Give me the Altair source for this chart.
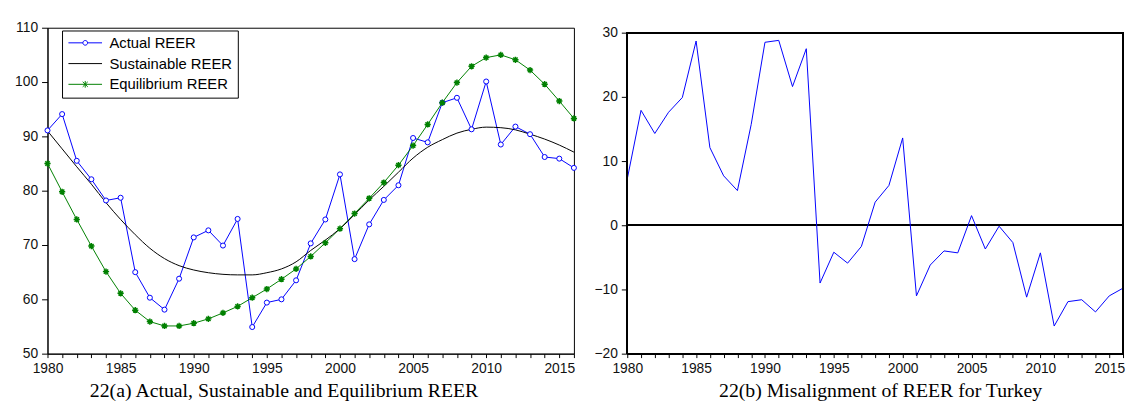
import altair as alt
import pandas as pd

years = list(range(1980, 2017))

actual_reer = [91.1, 94.1, 85.5, 82.1, 78.2, 78.7, 65.0, 60.3, 58.1, 63.8,
               71.4, 72.7, 69.9, 74.8, 54.9, 59.4, 60.0, 63.5, 70.3, 74.7,
               83.0, 67.4, 73.8, 78.3, 81.0, 89.7, 88.9, 96.2, 97.1, 91.3,
               100.1, 88.5, 91.8, 90.4, 86.2, 85.9, 84.2]

sustainable_reer = [91.0, 87.7, 84.4, 81.2, 77.8, 74.7, 71.9, 69.4, 67.5, 66.2,
                    65.4, 64.9, 64.6, 64.5, 64.5, 64.9, 65.6, 66.9, 69.0, 70.9,
                    73.0, 75.6, 78.3, 80.8, 83.4, 86.0, 88.0, 89.4, 90.6, 91.3,
                    91.7, 91.6, 91.2, 90.4, 89.5, 88.4, 87.1]

equilibrium_reer = [85.0, 79.8, 74.7, 69.8, 65.1, 61.1, 58.0, 55.9, 55.1, 55.1,
                    55.6, 56.4, 57.5, 58.7, 60.3, 61.9, 63.7, 65.6, 67.9, 70.4,
                    73.0, 75.8, 78.6, 81.5, 84.7, 88.3, 92.2, 96.2, 99.9, 102.9,
                    104.5, 105.0, 104.1, 102.2, 99.6, 96.5, 93.3]

misalignment = [7.2, 17.9, 14.3, 17.6, 19.9, 28.7, 12.1, 7.7, 5.4, 15.7,
                28.5, 28.8, 21.6, 27.5, -9.0, -4.2, -5.9, -3.3, 3.6, 6.2,
                13.6, -11.0, -6.2, -4.0, -4.3, 1.5, -3.7, -0.15, -2.7, -11.2,
                -4.3, -15.7, -11.9, -11.6, -13.5, -11.0, -9.8]

series_names = ["Actual REER", "Sustainable REER", "Equilibrium REER"]
series_colors = ["#0000ff", "#000000", "#008000"]
left_y_ticks = [50, 60, 70, 80, 90, 100, 110]
right_y_ticks = [-20, -10, 0, 10, 20, 30]
caption_a = "22(a) Actual, Sustainable and Equilibrium REER"
caption_b = "22(b) Misalignment of REER for Turkey"

df = pd.DataFrame({
    "year": years * 3,
    "series": [series_names[0]] * len(years) + [series_names[1]] * len(years) + [series_names[2]] * len(years),
    "value": actual_reer + sustainable_reer + equilibrium_reer,
})
mis_df = pd.DataFrame({"year": years, "value": misalignment})

STAR = "M-1,0L1,0M0,-1L0,1M-0.7,-0.7L0.7,0.7M-0.7,0.7L0.7,-0.7"
LEG_ACT = "M-1,0L-0.14,0M0.14,0L1,0M-0.14,0A0.14,0.14,0,1,1,0.14,0A0.14,0.14,0,1,1,-0.14,0Z"
LEG_EQ = "M-1,0L1,0M-0.15,-0.15L0.15,0.15M-0.15,0.15L0.15,-0.15M0,-0.2L0,0.2"
LEG_LINE = "M-1,0L1,0"
shape_signal = ("datum.value === 'Actual REER' ? '" + LEG_ACT + "' : (datum.value === 'Equilibrium REER' ? '"
                + LEG_EQ + "' : '" + LEG_LINE + "')")

label_expr = "datum.value % 5 == 0 ? datum.label : ''"
CAPTION_Y = 43.5


def x_axis(caption, tx):
    return alt.Axis(values=years, format="d", labelExpr=label_expr, tickSize=4,
                    labelPadding=4, labelFlush=False, labelOverlap=False,
                    title=caption, titleFont="Liberation Serif", titleFontSize=20,
                    titleFontWeight="normal", titleColor="black", titleBaseline="alphabetic",
                    titleY=CAPTION_Y, titleX=tx, titleAlign="center")


x_scale = alt.Scale(domain=[1980, 2016], nice=False, zero=False)

color_scale = alt.Scale(domain=series_names, range=series_colors)
legend = alt.Legend(
    title=None, orient="none", legendX=14.7, legendY=2.8, direction="vertical",
    strokeColor="black", fillColor="white", padding=5,
    labelFont="Liberation Sans", labelFontSize=15, labelColor="black",
    symbolSize=1156, symbolStrokeWidth=1, clipHeight=15, rowPadding=5, labelOffset=7,
    symbolOffset=1, symbolType=alt.ExprRef(expr=shape_signal), symbolFillColor="white",
)

# ---- left panel ----
base = alt.Chart(df)
x_left = alt.X("year:Q", scale=x_scale, axis=x_axis(caption_a, 239))
y_left = alt.Y("value:Q", scale=alt.Scale(domain=[50, 110], nice=False, zero=False),
               axis=alt.Axis(values=left_y_ticks, tickSize=6, labelPadding=4, title=None))

lines_lin = base.transform_filter(alt.datum.series != "Sustainable REER").mark_line(strokeWidth=1).encode(
    x=x_left, y=y_left,
    color=alt.Color("series:N", scale=color_scale, legend=legend),
)
line_sus = base.transform_filter(alt.datum.series == "Sustainable REER").mark_line(
    strokeWidth=1, interpolate="monotone").encode(
    x=x_left, y=y_left, color=alt.Color("series:N", scale=color_scale, legend=legend),
)
pts_act = base.transform_filter(alt.datum.series == "Actual REER").mark_point(
    shape="circle", size=26, filled=True, fill="white", stroke="#0000ff", strokeWidth=1, opacity=1).encode(
    x=x_left, y=y_left)
pts_eq = base.transform_filter(alt.datum.series == "Equilibrium REER").mark_point(
    shape=STAR, size=40, filled=False, stroke="#008000", strokeWidth=1.5, opacity=1).encode(
    x=x_left, y=y_left)

left = alt.layer(lines_lin, line_sus, pts_act, pts_eq).properties(width=533, height=330)

# ---- right panel ----
axis_xr = x_axis(caption_b, 256)
y_scale_r = alt.Scale(domain=[-20, 30], nice=False, zero=False, range=[330, 5])
axis_yr = alt.Axis(values=right_y_ticks, tickSize=6, labelPadding=4, title=None, domain=False)

mis_line = alt.Chart(mis_df).mark_line(color="#0000ff", strokeWidth=1).encode(
    x=alt.X("year:Q", scale=x_scale, axis=axis_xr),
    y=alt.Y("value:Q", scale=y_scale_r, axis=axis_yr))
zero_rule = alt.Chart(mis_df).mark_rule(color="black", strokeWidth=1).encode(
    y=alt.YDatum(0, scale=y_scale_r, axis=axis_yr))
frame = alt.Chart(mis_df).mark_rect(fillOpacity=0, stroke="black", strokeWidth=1).encode(
    x=alt.XDatum(years[0], scale=x_scale, axis=axis_xr), x2=alt.X2Datum(years[-1]),
    y=alt.YDatum(right_y_ticks[-1], scale=y_scale_r, axis=axis_yr), y2=alt.Y2Datum(right_y_ticks[0]))

right = alt.layer(zero_rule, mis_line, frame).properties(
    width=502, height=330, view=alt.ViewBackground(stroke="transparent"),
)

chart = alt.hconcat(left, right, spacing=12).properties(
    padding={"left": 6, "top": 9.5, "right": 0, "bottom": 0}
).configure_view(stroke="black", strokeWidth=1).configure_axis(
    domainColor="black", tickColor="black", labelColor="#111111", labelFont="Liberation Sans",
    labelFontSize=14, grid=False, domainWidth=1, tickWidth=1,
)

chart.save("out.html", embed_options={"renderer": "svg", "actions": False})
